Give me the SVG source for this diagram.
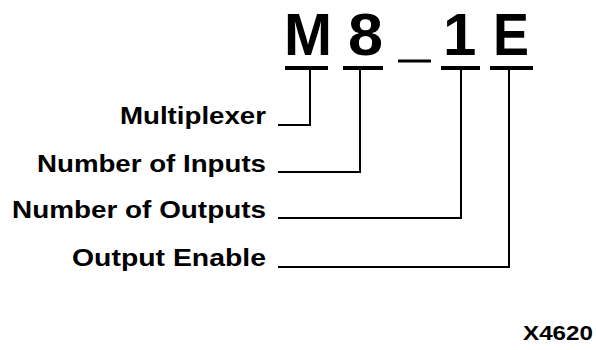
<svg xmlns="http://www.w3.org/2000/svg" width="596" height="350" viewBox="0 0 596 350">
<style>
.big{font-family:"Liberation Sans",Arial,sans-serif;font-weight:bold;font-size:60px;fill:#000}
.lbl{font-family:"Liberation Sans",Arial,sans-serif;font-weight:bold;font-size:23px;fill:#000;text-anchor:end}
.bar{fill:#000}
.ln{fill:none;stroke:#000;stroke-width:2}
</style>
<rect width="596" height="350" fill="#fff"/>
<g id="name">
<text class="big" x="284" y="55" textLength="48" lengthAdjust="spacingAndGlyphs">M</text>
<text class="big" x="348" y="55" textLength="35" lengthAdjust="spacingAndGlyphs">8</text>
<rect class="bar" x="398" y="59.5" width="33" height="3"/>
<text class="big" x="443" y="55">1</text>
<text class="big" x="493" y="55" textLength="36" lengthAdjust="spacingAndGlyphs">E</text>
</g>
<g id="bars">
<rect class="bar" x="285" y="66" width="43" height="4"/>
<rect class="bar" x="343" y="66" width="40" height="4"/>
<rect class="bar" x="441" y="66" width="39" height="4"/>
<rect class="bar" x="490" y="66" width="43" height="4"/>
</g>
<g id="connectors">
<polyline class="ln" points="278,125 310,125 310,70"/>
<polyline class="ln" points="278,172 360,172 360,70"/>
<polyline class="ln" points="278,218 461,218 461,70"/>
<polyline class="ln" points="278,267 509,267 509,70"/>
</g>
<g id="label-multiplexer"><text class="lbl" x="266" y="124" textLength="146" lengthAdjust="spacingAndGlyphs">Multiplexer</text></g>
<g id="label-inputs"><text class="lbl" x="266" y="172" textLength="229" lengthAdjust="spacingAndGlyphs">Number of Inputs</text></g>
<g id="label-outputs"><text class="lbl" x="266" y="218" textLength="254" lengthAdjust="spacingAndGlyphs">Number of Outputs</text></g>
<g id="label-enable"><text class="lbl" x="266" y="266" textLength="194" lengthAdjust="spacingAndGlyphs">Output Enable</text></g>
<g id="figure-id"><text class="lbl" x="593" y="340" style="font-size:20px" textLength="70" lengthAdjust="spacingAndGlyphs">X4620</text></g>
</svg>
